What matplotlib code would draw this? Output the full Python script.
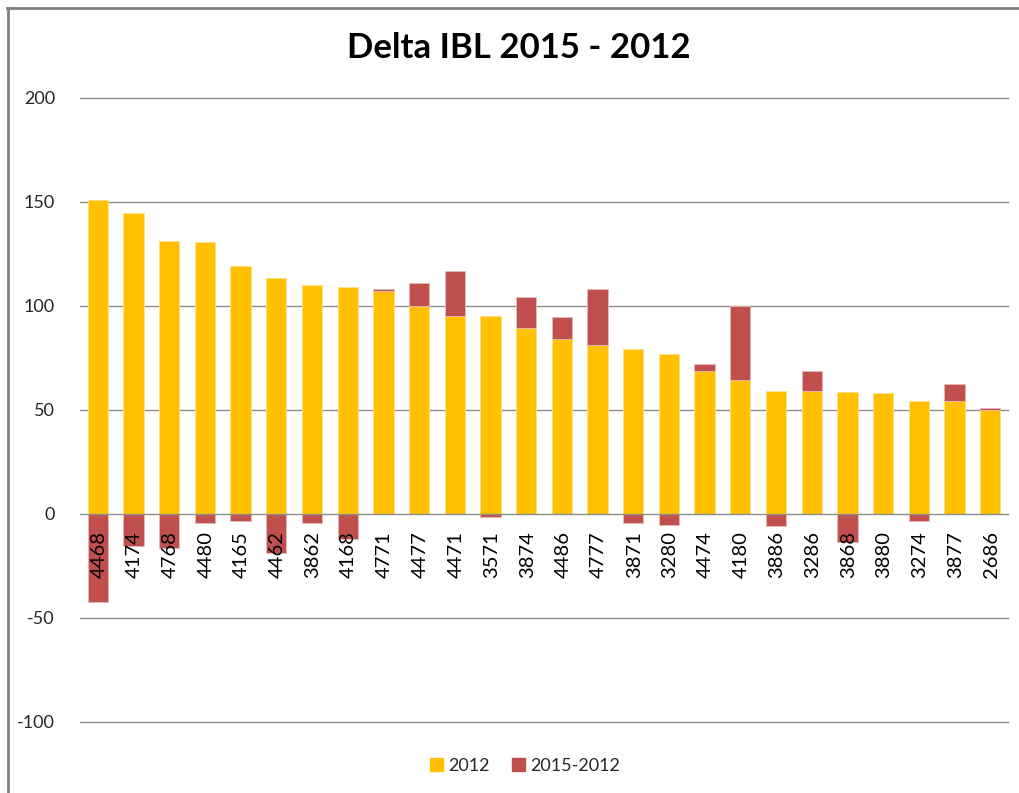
import matplotlib
matplotlib.use("Agg")
import matplotlib.pyplot as plt
from matplotlib.lines import Line2D
from matplotlib.patches import Patch

plt.rcParams['font.family'] = ['Lato', 'DejaVu Sans']

# data
codes = ["4468", "4174", "4768", "4480", "4165", "4462", "3862", "4168", "4771",
         "4477", "4471", "3571", "3874", "4486", "4777", "3871", "3280", "4474",
         "4180", "3886", "3286", "3868", "3880", "3274", "3877", "2686"]
ibl_2012 = [151.0, 144.6, 131.4, 130.9, 119.1, 113.6, 110.2, 109.3, 107.4,
            100.0, 95.0, 95.0, 89.6, 84.1, 81.3, 79.2, 76.8, 68.8,
            64.4, 59.0, 59.0, 58.5, 58.0, 54.5, 54.5, 50.0]
delta_2015_2012 = [-42.5, -15.2, -16.2, -4.5, -3.4, -18.6, -4.5, -11.9, 0.6,
                   11.2, 21.8, -1.4, 14.7, 10.5, 27.0, -4.5, -5.5, 3.5,
                   35.4, -5.9, 9.9, -13.3, 0.0, -3.5, 8.0, 1.1]
y_ticks = [-100, -50, 0, 50, 100, 150, 200]

YELLOW = "#FFC000"
RED = "#C0504D"

fig = plt.figure(figsize=(10.19, 7.93), dpi=100)
ax = fig.add_axes([80 / 1019, 71 / 793, 928 / 1019, 624 / 793])

x = list(range(len(codes)))
bottoms = [b if d > 0 else 0 for b, d in zip(ibl_2012, delta_2015_2012)]

ax.bar(x, ibl_2012, width=0.57, color=YELLOW, edgecolor="#FFE08A",
       linewidth=0.6, zorder=2)
ax.bar(x, delta_2015_2012, bottom=bottoms, width=0.57, color=RED,
       edgecolor="#E6B9B8", linewidth=0.6, zorder=2)

ax.set_xlim(-0.5, len(codes) - 0.5)
ax.set_ylim(-100, 200)
ax.set_yticks(y_ticks)
ax.set_yticklabels([str(t) for t in y_ticks], fontsize=13, color="#262626")
for t in y_ticks:
    ax.axhline(t, color="#8C8C8C", linewidth=1.0, zorder=0 if t else 3,
               clip_on=False)

for side in ["left", "right", "top", "bottom"]:
    ax.spines[side].set_visible(False)

# category labels sit on the zero line, drawn over the bars
ax.set_xticks([])
for i, code in enumerate(codes):
    ax.annotate(code, xy=(i, 0), xytext=(1, -17), textcoords="offset pixels",
                rotation=90, ha="center", va="top", fontsize=14.5,
                color="black", zorder=5)
ax.tick_params(axis="y", length=0, pad=18)

fig.text(519 / 1019, 1 - 48 / 793, "Delta IBL 2015 - 2012", ha="center",
         va="center", fontsize=25, fontweight="bold")

handles = [Patch(facecolor=YELLOW, edgecolor=YELLOW),
           Patch(facecolor=RED, edgecolor=RED)]
fig.legend(handles, ["2012", "2015-2012"], loc="center",
           bbox_to_anchor=(525 / 1019, 1 - 766 / 793), ncol=2, frameon=False,
           fontsize=13, handlelength=0.75, handleheight=0.75,
           handletextpad=0.3, columnspacing=1.2, labelcolor="#262626")

# outer chart border (left and top visible in the reference)
fig.add_artist(Line2D([7.5 / 1019, 7.5 / 1019], [0, 1 - 8 / 793],
                      color="#808080", linewidth=2, transform=fig.transFigure))
fig.add_artist(Line2D([6.5 / 1019, 1], [1 - 8 / 793, 1 - 8 / 793],
                      color="#808080", linewidth=2, transform=fig.transFigure))

fig.savefig("out.png", dpi=100)
